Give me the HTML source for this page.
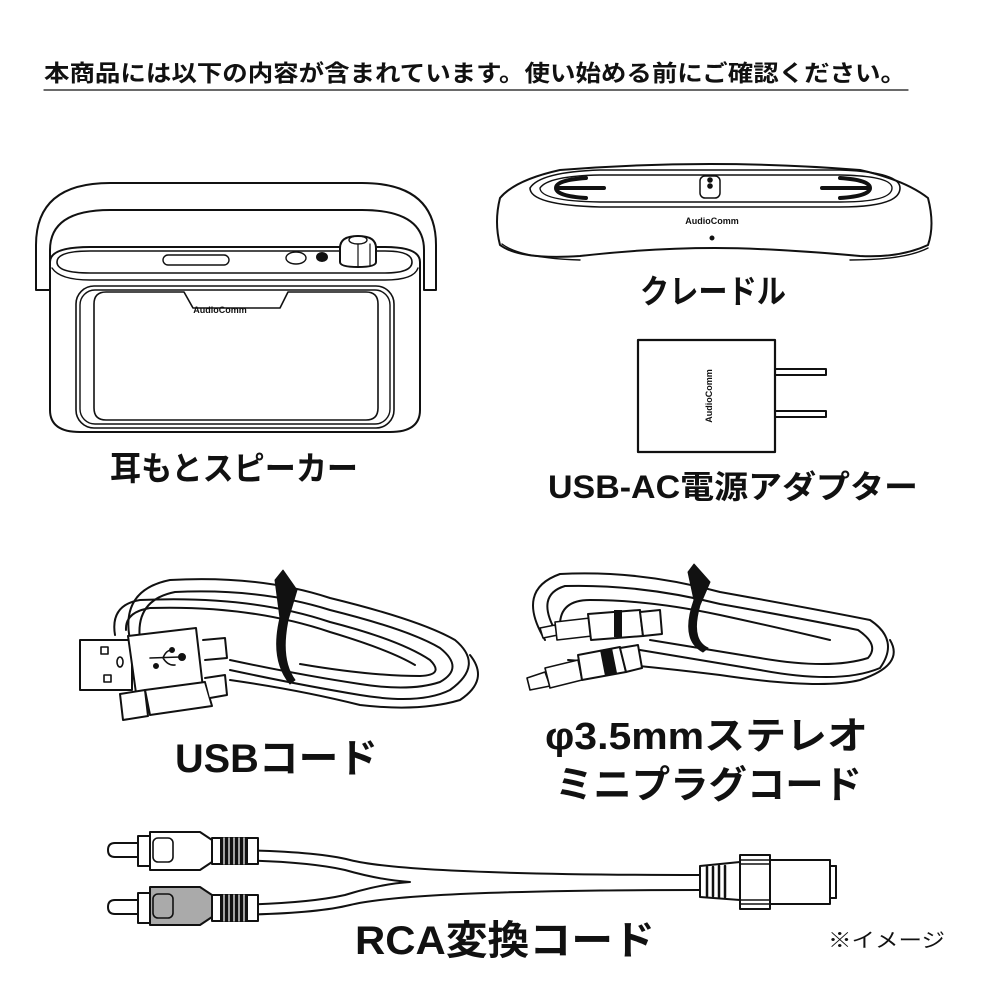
<!DOCTYPE html>
<html><head><meta charset="utf-8"><style>
html,body{margin:0;padding:0;background:#fff;}
svg{display:block;}
text{font-family:"Liberation Sans","Noto Sans CJK JP",sans-serif;fill:#111;}
</style></head><body>
<svg width="1000" height="1000" viewBox="0 0 1000 1000" xmlns="http://www.w3.org/2000/svg">
<g fill="none" stroke="#111" stroke-width="2" stroke-linejoin="round" stroke-linecap="round">
<line x1="44" y1="90" x2="908" y2="90" stroke-width="1.2"/>

<!-- Speaker handle -->
<path d="M36 290 L36 245 Q36 183 110 183 L362 183 Q436 183 436 245 L436 290 L424 290 L424 250 Q424 210 362 210 L110 210 Q50 210 50 250 L50 290 Z" fill="#fff"/>
<path d="M50 262 Q50 247 90 247 L385 247 Q420 247 420 262 L420 410 Q420 432 390 432 L80 432 Q50 432 50 410 Z" fill="#fff"/>
<path d="M57 262 Q57 251 90 251 L385 251 Q412 251 412 262 Q412 273 385 273 L90 273 Q57 273 57 262 Z" stroke-width="1.6"/>
<path d="M52 268 Q60 280 90 280 L385 280 Q414 280 418 268" stroke-width="1.4"/>
<rect x="163" y="255" width="66" height="10" rx="5" stroke-width="1.4"/>
<ellipse cx="296" cy="258" rx="10" ry="6" stroke-width="1.4"/>
<ellipse cx="322" cy="257" rx="5" ry="4" fill="#111"/>
<path d="M340 248 Q340 236 358 236 Q376 236 376 248 L376 262 Q376 267 358 267 Q340 267 340 262 Z" fill="#fff"/>
<ellipse cx="358" cy="240" rx="9" ry="4" stroke-width="1.4"/>
<line x1="358" y1="244" x2="358" y2="266" stroke-width="1.2"/>
<line x1="370" y1="244" x2="370" y2="265" stroke-width="1.2"/>
<rect x="76" y="286" width="318" height="142" rx="18" stroke-width="1.6"/>
<rect x="80" y="290" width="310" height="134" rx="15" stroke-width="1.4"/>
<path d="M106 292 L184 292 L193 308 L280 308 L288 292 L366 292 Q378 292 378 304 L378 408 Q378 420 366 420 L106 420 Q94 420 94 408 L94 304 Q94 292 106 292 Z" stroke-width="1.6"/>

<!-- Cradle -->
<path d="M500 198 Q515 180 560 170 Q710 158 860 170 Q905 180 928 198 Q935 225 928 245 Q900 258 860 256 Q770 248 715 248 Q650 248 580 256 Q520 260 500 245 Q494 222 500 198 Z" fill="#fff"/>
<path d="M502 244 Q520 258 580 260 M850 260 Q905 260 928 248" stroke-width="1.4"/>
<path d="M530 188 Q540 172 600 170 L840 170 Q900 172 900 188 Q900 207 840 207 L600 207 Q530 205 530 188 Z" stroke-width="1.6"/>
<path d="M540 188 Q548 176 600 175 L840 175 Q892 176 892 188 Q892 202 840 202 L600 202 Q540 201 540 188 Z" stroke-width="1.4"/>
<path d="M586 178 Q556 180 556 188 Q556 196 586 198 M556 188 L604 188" stroke-width="4"/>
<path d="M840 178 Q870 180 870 188 Q870 196 840 198 M870 188 L822 188" stroke-width="4"/>
<rect x="700" y="176" width="20" height="22" rx="5" stroke-width="1.5"/>
<circle cx="710" cy="180" r="1.8" fill="#111"/><circle cx="710" cy="186" r="1.8" fill="#111"/>
<circle cx="712" cy="238" r="1.5" fill="#111"/>

<!-- Adapter -->
<rect x="638" y="340" width="137" height="112" stroke-width="2.2"/>
<path d="M775 369 L826 369 L826 375 L775 375 M775 411 L826 411 L826 417 L775 417" stroke-width="2"/>

<!-- USB cable loops -->
<g stroke-width="2">
<path d="M130 640 Q120 590 170 580 Q260 575 330 598 Q420 620 455 640 Q485 665 450 690 Q420 705 360 695 Q300 685 230 670"/>
<path d="M140 640 Q135 600 175 592 Q260 588 330 610 Q410 630 440 648 Q465 668 440 682 Q410 692 360 684 Q300 675 230 660"/>
<path d="M115 635 Q110 605 140 600 Q250 595 330 622 Q400 640 430 660 Q445 675 420 676 Q370 676 300 664"/>
<path d="M126 630 Q125 612 150 608 Q250 605 330 632 Q390 650 415 665"/>
<path d="M230 680 Q300 690 360 705 Q420 712 460 700 Q490 680 470 655"/>
</g>
<path d="M275 580 L283 570 L297 590 L288 620 Q280 660 295 680 L290 684 Q270 660 280 618 Z" fill="#111" stroke-width="1"/>
<rect x="80" y="640" width="52" height="50" fill="#fff"/>
<rect x="101" y="647" width="7" height="7" stroke-width="1.6"/>
<rect x="104" y="675" width="7" height="7" stroke-width="1.6"/>
<ellipse cx="120" cy="662" rx="3" ry="5" stroke-width="1.6"/>
<path d="M128 636 L196 628 L203 688 L136 693 Z" fill="#fff"/>
<path d="M150 658 L180 657 M163 658 Q166 650 172 650 M163 658 Q168 666 175 665" stroke-width="1.6"/>
<circle cx="182" cy="657" r="3" fill="#111"/><circle cx="172" cy="650" r="2" fill="#111"/><circle cx="156" cy="666" r="2" fill="#111"/>
<path d="M203 640 L225 638 L227 658 L205 660" fill="#fff"/>
<path d="M120 694 L145 690 L148 716 L123 720 Z" fill="#fff"/>
<path d="M145 690 L205 682 L212 706 L150 715 Z" fill="#fff"/>
<path d="M205 678 L225 675 L227 695 L210 698" fill="#fff"/>

<!-- 3.5mm cable -->
<g stroke-width="2">
<path d="M545 640 Q515 590 560 574 Q640 570 720 592 Q820 610 870 620 Q900 640 880 668 Q840 685 760 670 Q700 660 640 650"/>
<path d="M556 632 Q535 595 565 586 Q640 584 720 604 Q810 620 858 630 Q880 645 868 658 Q830 670 760 658 Q700 648 650 640"/>
<path d="M568 660 Q640 665 720 675 Q820 690 860 680 Q905 665 890 640"/>
<path d="M560 625 Q560 600 590 600 Q650 600 720 615 Q780 628 830 640"/>
</g>
<path d="M688 572 L694 564 L710 582 L700 605 Q690 640 708 648 L703 652 Q680 640 694 600 Z" fill="#111" stroke-width="1"/>
<path d="M540 628 L555 625 L558 635 L543 638 Z" fill="#fff" stroke-width="1.6"/>
<path d="M555 622 L590 618 L592 636 L557 640 Z" fill="#fff" stroke-width="1.6"/>
<path d="M588 614 L640 610 L643 636 L591 640 Z" fill="#fff"/>
<rect x="614" y="610" width="8" height="27" fill="#111" stroke-width="0"/>
<path d="M640 612 L660 610 L662 634 L643 636 Z" fill="#fff"/>
<path d="M527 678 L545 672 L550 686 L530 690 Z" fill="#fff" stroke-width="1.6"/>
<path d="M545 668 L578 660 L582 680 L550 688 Z" fill="#fff" stroke-width="1.6"/>
<path d="M578 655 L620 647 L626 672 L582 680 Z" fill="#fff"/>
<path d="M600 650 L612 648 L617 673 L605 676 Z" fill="#111" stroke-width="0"/>
<path d="M620 648 L638 645 L642 668 L626 672 Z" fill="#fff"/>

<!-- RCA cable -->
<path d="M210 850 Q310 850 350 860 Q410 875 700 875" stroke-width="2"/>
<path d="M210 860 Q300 860 345 870 Q380 880 410 882 Q380 884 345 895 Q300 905 210 905" stroke-width="2"/>
<path d="M210 915 Q310 915 350 905 Q410 890 700 890" stroke-width="2"/>
<path d="M115 843 Q108 843 108 850 Q108 857 115 857 L140 857 L140 843 Z" fill="#fff"/>
<path d="M138 836 L152 836 L152 866 L138 866 Z" fill="#fff"/>
<path d="M150 832 L200 832 L212 840 L212 862 L200 870 L150 870 Z" fill="#fff"/>
<rect x="153" y="838" width="20" height="24" rx="5" stroke-width="1.6"/>
<rect x="212" y="838" width="46" height="26" fill="#fff"/>
<rect x="220" y="838" width="28" height="26" fill="#111" stroke-width="0"/>
<g stroke="#fff" stroke-width="1.2"><line x1="224" y1="838" x2="224" y2="864"/><line x1="229" y1="838" x2="229" y2="864"/><line x1="234" y1="838" x2="234" y2="864"/><line x1="239" y1="838" x2="239" y2="864"/><line x1="244" y1="838" x2="244" y2="864"/></g>
<path d="M115 900 Q108 900 108 907 Q108 914 115 914 L140 914 L140 900 Z" fill="#fff"/>
<path d="M138 893 L152 893 L152 923 L138 923 Z" fill="#fff"/>
<path d="M150 887 L200 887 L212 895 L212 917 L200 925 L150 925 Z" fill="#aaa"/>
<rect x="153" y="894" width="20" height="24" rx="5" stroke-width="1.6" fill="#aaa"/>
<rect x="212" y="895" width="46" height="26" fill="#fff"/>
<rect x="220" y="895" width="28" height="26" fill="#111" stroke-width="0"/>
<g stroke="#fff" stroke-width="1.2"><line x1="224" y1="895" x2="224" y2="921"/><line x1="229" y1="895" x2="229" y2="921"/><line x1="234" y1="895" x2="234" y2="921"/><line x1="239" y1="895" x2="239" y2="921"/><line x1="244" y1="895" x2="244" y2="921"/></g>
<path d="M700 866 L740 862 L740 900 L700 897 Z" fill="#fff"/>
<g stroke-width="2.5"><line x1="707" y1="867" x2="707" y2="896"/><line x1="713" y1="867" x2="713" y2="896"/><line x1="719" y1="866" x2="719" y2="897"/><line x1="725" y1="866" x2="725" y2="897"/></g>
<rect x="740" y="855" width="30" height="54" fill="#fff"/>
<g stroke-width="1.6"><line x1="740" y1="860" x2="770" y2="860"/><line x1="740" y1="864" x2="770" y2="864"/><line x1="740" y1="900" x2="770" y2="900"/><line x1="740" y1="904" x2="770" y2="904"/></g>
<rect x="770" y="860" width="60" height="44" fill="#fff"/>
<line x1="830" y1="866" x2="836" y2="866"/><line x1="836" y1="866" x2="836" y2="898"/><line x1="830" y1="898" x2="836" y2="898"/>
</g>

<text x="44" y="81" font-size="23" font-weight="bold" textLength="862" lengthAdjust="spacingAndGlyphs">本商品には以下の内容が含まれています。使い始める前にご確認ください。</text>
<text x="220" y="313" font-size="9" font-weight="bold" text-anchor="middle">AudioComm</text>
<text x="712" y="224" font-size="9" font-weight="bold" text-anchor="middle">AudioComm</text>
<text x="0" y="0" font-size="9" font-weight="bold" text-anchor="middle" transform="translate(712 396) rotate(-90)">AudioComm</text>
<text x="110" y="480" font-size="33" font-weight="bold" textLength="248" lengthAdjust="spacingAndGlyphs">耳もとスピーカー</text>
<text x="640" y="303" font-size="33" font-weight="bold" textLength="146" lengthAdjust="spacingAndGlyphs">クレードル</text>
<text x="548" y="498" font-size="32" font-weight="bold" textLength="370" lengthAdjust="spacingAndGlyphs">USB-AC電源アダプター</text>
<text x="175" y="772" font-size="40" font-weight="bold" textLength="203" lengthAdjust="spacingAndGlyphs">USBコード</text>
<text x="545" y="749" font-size="38" font-weight="bold" textLength="323" lengthAdjust="spacingAndGlyphs">φ3.5mmステレオ</text>
<text x="555" y="798" font-size="38" font-weight="bold" textLength="307" lengthAdjust="spacingAndGlyphs">ミニプラグコード</text>
<text x="355" y="954" font-size="40" font-weight="bold" textLength="300" lengthAdjust="spacingAndGlyphs">RCA変換コード</text>
<text x="828" y="947" font-size="20" textLength="117" lengthAdjust="spacingAndGlyphs">※イメージ</text>
</svg>
</body></html>
